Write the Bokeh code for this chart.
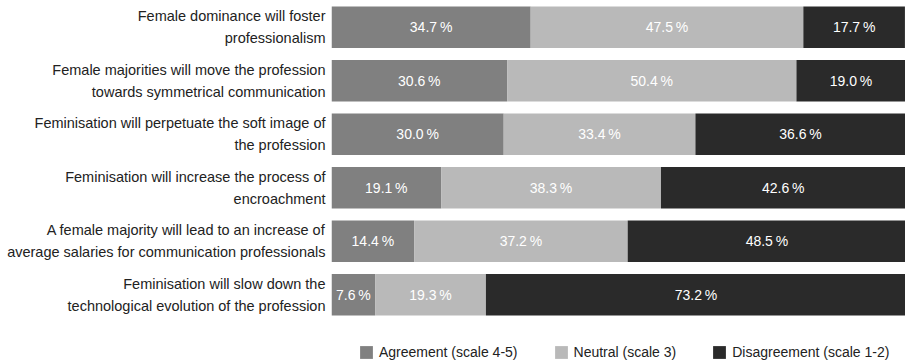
from bokeh.plotting import figure
from bokeh.layouts import column
from bokeh.models import ColumnDataSource, FactorRange, Legend, LegendItem, LabelSet, Range1d
from bokeh.core.properties import value
from bokeh.embed import file_html
from bokeh.resources import INLINE

categories = [
    "Female dominance will foster\nprofessionalism",
    "Female majorities will move the profession\ntowards symmetrical communication",
    "Feminisation will perpetuate the soft image of\nthe profession",
    "Feminisation will increase the process of\nencroachment",
    "A female majority will lead to an increase of\naverage salaries for communication professionals",
    "Feminisation will slow down the\ntechnological evolution of the profession",
]
agreement = [34.7, 30.6, 30.0, 19.1, 14.4, 7.6]
neutral = [47.5, 50.4, 33.4, 38.3, 37.2, 19.3]
disagreement = [17.7, 19.0, 36.6, 42.6, 48.5, 73.2]
series_names = ["Agreement (scale 4-5)", "Neutral (scale 3)", "Disagreement (scale 1-2)"]
colors = ["#808080", "#b9b9b9", "#2a2a2a"]

FONT = "Liberation Sans"

src = ColumnDataSource(dict(cat=categories, agree=agreement, neutral=neutral, disagree=disagreement))

p = figure(width=905, height=321, output_backend="svg", toolbar_location=None,
           y_range=FactorRange(factors=list(reversed(categories)), range_padding=0),
           x_range=(0, 100), min_border_left=331, min_border_right=0,
           min_border_top=0, min_border_bottom=0)
p.outline_line_color = None
p.xgrid.visible = False
p.ygrid.visible = False
p.xaxis.visible = False
p.background_fill_color = "white"
p.border_fill_color = "white"

rs = p.hbar_stack(["agree", "neutral", "disagree"], y="cat", height=0.78, source=src,
                  color=colors, line_color=None)

ya = p.yaxis[0]
ya.axis_line_color = None
ya.major_tick_line_color = None
ya.minor_tick_line_color = None
ya.major_tick_out = 0
ya.major_tick_in = 0
ya.major_label_standoff = 6
ya.major_label_text_font = FONT
ya.major_label_text_font_size = "14.5px"
ya.major_label_text_color = "#222222"
ya.major_label_text_line_height = 1.35

# value labels
lx, ly, lt = [], [], []
for c, a, n, d in zip(categories, agreement, neutral, disagreement):
    for start, val in ((0, a), (a, n), (a + n, d)):
        lx.append(start + val / 2)
        ly.append(c)
        lt.append(f"{val:.1f}\u2009%")
lsrc = ColumnDataSource(dict(x=lx, y=ly, t=lt))
p.add_layout(LabelSet(x="x", y="y", text="t", source=lsrc, text_color="white",
                      text_font=value(FONT), text_font_size="14px", text_align="center",
                      text_baseline="middle"))

# legend strip (frame aligned with the main plot's frame in the column);
# its bars use the same data but lie outside its visible x range
lf = figure(width=905, height=40, output_backend="svg", toolbar_location=None,
            x_range=Range1d(-300, -200),
            y_range=FactorRange(factors=list(reversed(categories))),
            min_border_left=331, min_border_right=0, min_border_top=0, min_border_bottom=0)
lf.outline_line_color = None
lf.axis.visible = False
lf.grid.visible = False
lf.background_fill_color = "white"
lf.border_fill_color = "white"
lrs = lf.hbar_stack(["agree", "neutral", "disagree"], y="cat", height=0.78, source=src,
                    color=colors, line_color=None)

legend = Legend(items=[LegendItem(label=n, renderers=[r]) for n, r in zip(series_names, lrs)],
                orientation="horizontal", location=(27, 1),
                glyph_width=16, glyph_height=16, label_height=16, label_text_font=FONT,
                label_text_font_size="14px", label_text_color="#222222",
                label_text_baseline="middle",
                spacing=35, padding=0, margin=0, label_standoff=5,
                border_line_color=None, background_fill_alpha=0)
lf.add_layout(legend, "center")

layout = column(p, lf, spacing=0)
open("out.html", "w").write(file_html(layout, INLINE))
